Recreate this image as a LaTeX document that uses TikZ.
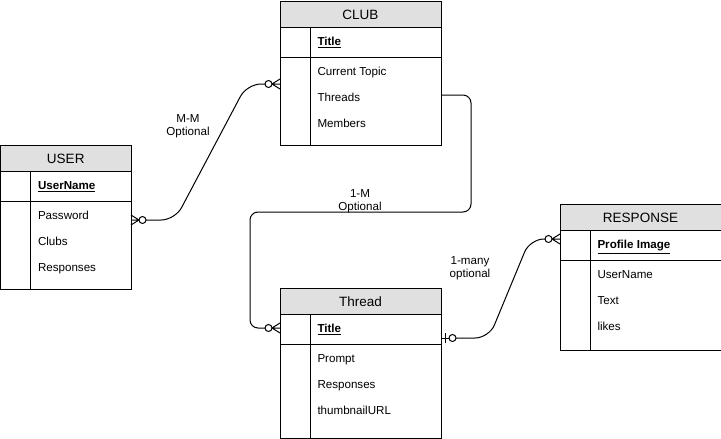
\documentclass[tikz,border=0pt]{standalone}
\usepackage{fontspec}
\setmainfont{Liberation Sans}
\usetikzlibrary{calc}
\definecolor{hdrgray}{RGB}{224,224,224}
\tikzset{
  every path/.style={line width=1pt},
  tblbox/.style={draw=none,fill=white,inner sep=0pt,anchor=north west},
  hdrtext/.style={inner sep=0pt,font=\fontsize{13.5}{15}\selectfont},
  attr/.style={inner sep=0pt,anchor=west,text height=8.3pt,text depth=2.4pt,font=\fontsize{11.6}{13}\selectfont},
  keytext/.style={attr,font=\fontsize{11.6}{13}\selectfont\bfseries},
  lbl/.style={inner sep=0pt,align=center,font=\fontsize{11.6}{13.5}\selectfont},
  conn/.style={draw=black,line width=1pt},
  zmany/.pic={\draw (0,-5)--(8,0)--(0,5) (0,0)--(15,0); \draw[fill=white] (11.5,0) circle (3.5);},
  zone/.pic={\draw (4,-5)--(4,5) (0,0)--(15,0); \draw[fill=white] (11.5,0) circle (3.5);}
}
\newcommand\ertbl[8]{%
  \node[tblbox,minimum width=#4,minimum height=#5] (#1) at (#2,#3) {};
  \fill[hdrgray] (#1.north west) rectangle ($(#1.north east)+(0,26)$);
  \draw ($(#1.north west)+(0,26)$) -- ($(#1.north east)+(0,26)$);
  \draw ($(#1.north west)+(0,56)$) -- ($(#1.north east)+(0,56)$);
  \draw ($(#1.north west)+(30,26)$) -- ($(#1.south west)+(30,0)$);
  \draw (#1.north west) rectangle (#1.south east);
  \node[hdrtext] (#1-t) at ($(#1.north)+(0,13.5)$) {#6};
  \node[keytext] (#1-k) at ($(#1.north west)+(37,42)$) {\underline{#7}};
  \foreach \a [count=\i] in {#8} {
    \node[attr] (#1-a\i) at ($(#1.north west)+(37,{45.5+26*\i})$) {\a};
  }
}
\begin{document}
\begin{tikzpicture}[x=1pt,y=-1pt]
\useasboundingbox (0,0) rectangle (721,439);
\fill[white] (0,0) rectangle (721,439);

\ertbl{club}{280}{1}{160}{143}{CLUB}{Title}{Current Topic,Threads,Members}
\ertbl{user}{0.5}{145}{129.5}{143}{USER}{UserName}{Password,Clubs,Responses}
\ertbl{thread}{280}{288}{160}{149}{Thread}{Title}{Prompt,Responses,thumbnailURL}
\ertbl{resp}{560}{204}{160}{145}{RESPONSE}{Profile Image}{UserName,Text,likes}

\coordinate (u-e) at ($(user.north east)+(0,75)$);
\coordinate (c-w) at ($(club.north west)+(0,83)$);
\coordinate (c-e) at ($(club.north east)+(0,94)$);
\coordinate (t-w) at ($(thread.north west)+(0,40)$);
\coordinate (t-e) at ($(thread.north east)+(0,50)$);
\coordinate (r-w) at ($(resp.north west)+(0,35)$);

% USER -- CLUB (M-M optional)
\pic at (u-e) {zmany};
\pic[rotate=180] at (c-w) {zmany};
\draw[conn,rounded corners=14] ($(u-e)+(15,0)$) -- ($(u-e)+(44,0)$) -- ($(c-w)+(-33,0)$) -- ($(c-w)+(-15,0)$);

% CLUB -- Thread (1-M optional)
\pic[rotate=180] at (t-w) {zmany};
\draw[conn,rounded corners=8] (c-e) -- ($(c-e)+(30,0)$) -- ($(c-e)+(30,117)$) -- ($(t-w)+(-30,-116)$) -- ($(t-w)+(-30,0)$) -- ($(t-w)+(-15,0)$);

% Thread -- RESPONSE (1-many optional)
\pic at (t-e) {zone};
\pic[rotate=180] at (r-w) {zmany};
\draw[conn,rounded corners=14] ($(t-e)+(15,0)$) -- ($(t-e)+(48,0)$) -- ($(r-w)+(-30,0)$) -- ($(r-w)+(-15,0)$);

\node[lbl] (l1) at (188,126) {M-M\\Optional};
\node[lbl] (l2) at (360,201) {1-M\\Optional};
\node[lbl] (l3) at (470,268) {1-many\\optional};
\end{tikzpicture}
\end{document}
